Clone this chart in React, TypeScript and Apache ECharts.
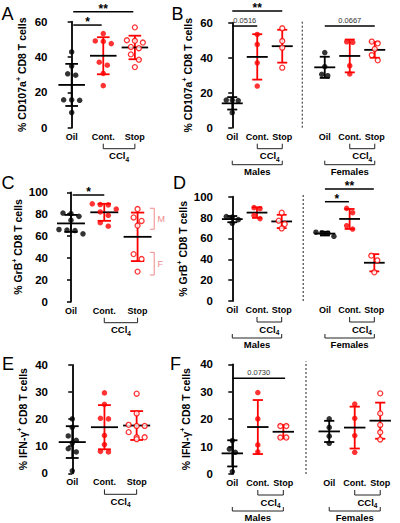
import React, { useEffect, useRef } from 'react';
import * as echarts from 'echarts';

const RED = '#ff0000';
const BLACK = '#000000';
const PINK = '#f08a8a';
const FONT = '"Liberation Sans", Arial, sans-serif';

const groupNames = ['Oil', 'Cont.', 'Stop'];

// ---- CD107a ----
const cd107aOil = [15.8, 15.8, 15.5, 8.6, 42.9, 34.9, 29.7, 30.5];
const cd107aCont = [53.3, 47.6, 37.1, 23.8, 48.8, 49.1, 35.4, 30.7];
const cd107aStop = [56.8, 49.5, 45.7, 34.3, 49.2, 48.2, 45, 41.5, 38.5];
const cd107aMaleOil = [15.8, 15.8, 15.5, 8.6];
const cd107aMaleCont = [53.3, 47.6, 37.1, 23.8];
const cd107aMaleStop = [56.8, 49.5, 45.7, 34.3];
const cd107aFemaleOil = [42.9, 34.9, 29.7, 30.5];
const cd107aFemaleCont = [48.8, 49.1, 35.4, 30.7];
const cd107aFemaleStop = [49.2, 48.2, 45, 41.5, 38.5];

// ---- GrB ----
const grbOil = [81, 80.5, 78, 74.5, 66, 65.5, 65, 62];
const grbCont = [89.5, 88.5, 82, 79, 88.8, 84.7, 72.2, 69];
const grbStop = [84.7, 77, 73.8, 69.6, 43.5, 39, 27.5];
const grbMaleOil = [81, 80.5, 78, 74.5];
const grbMaleCont = [89.5, 88.5, 82, 79];
const grbMaleStop = [84.7, 77, 73.8, 69.6];
const grbFemaleOil = [66, 65.5, 65, 62];
const grbFemaleCont = [88.8, 84.7, 72.2, 69];
const grbFemaleStop = [43.5, 39, 27.5];

// ---- IFN-gamma ----
const ifnOil = [9.1, 12.2, 7.9, 0.9, 20.1, 17, 13.8, 11.2];
const ifnCont = [29.7, 20.1, 10.6, 8.1, 25.5, 20.3, 14, 7.9];
const ifnStop = [17.5, 17.5, 13.3, 13.3, 29.4, 22.1, 17.9, 15.2, 12.6];
const ifnMaleOil = [9.1, 12.2, 7.9, 0.9];
const ifnMaleCont = [29.7, 20.1, 10.6, 8.1];
const ifnMaleStop = [17.5, 17.5, 13.3, 13.3];
const ifnFemaleOil = [20.1, 17, 13.8, 11.2];
const ifnFemaleCont = [25.5, 20.3, 14, 7.9];
const ifnFemaleStop = [29.4, 22.1, 17.9, 15.2, 12.6];

const yNameCD107a = '% CD107a{sup|+} CD8 T cells';
const yNameGrB = '% GrB{sup|+} CD8 T cells';
const yNameIFN = '% IFN-γ{sup|+} CD8 T cells';

type Group = { x: number; vals: number[]; kind: number };
type Sig = { x1: number; x2: number; y: number; text: string; num?: boolean };
type Panel = {
  letter: string; lx: number; ly: number;
  left: number; top: number; height: number; unit: number;
  xmin: number; xmax: number; ymax: number; interval: number; nameGap: number;
  yName: string; groups: Group[]; sigs: Sig[];
  ccl4: number[][]; sexes: { x1: number; x2: number; text: string }[];
  sep?: number; thresh: number; step: number; mf?: boolean;
};

const three = (f: number, a: number[], b: number[], c: number[]): Group[] => [
  { x: f, vals: a, kind: 0 }, { x: f + 1, vals: b, kind: 1 }, { x: f + 2, vals: c, kind: 2 },
];

const panels: Panel[] = [
  {
    letter: 'A', lx: 1.5, ly: 13.5, left: 50.5, top: 21.7, height: 106, unit: 31.6,
    xmin: -0.67, xmax: 2.6, ymax: 60, interval: 20, nameGap: 22, yName: yNameCD107a,
    groups: three(0, cd107aOil, cd107aCont, cd107aStop),
    sigs: [{ x1: 0.05, x2: 0.95, y: 58.1, text: '*' }, { x1: 0.05, x2: 1.95, y: 65.6, text: '**' }],
    ccl4: [[1, 2]], sexes: [], thresh: 3.1, step: 8,
  },
  {
    letter: 'B', lx: 171.5, ly: 13.5, left: 216, top: 22.7, height: 105, unit: 25,
    xmin: -0.65, xmax: 6.3, ymax: 60, interval: 20, nameGap: 21, yName: yNameCD107a,
    groups: [...three(0, cd107aMaleOil, cd107aMaleCont, cd107aMaleStop), ...three(3.7, cd107aFemaleOil, cd107aFemaleCont, cd107aFemaleStop)],
    sigs: [
      { x1: 0, x2: 2, y: 66.7, text: '**' },
      { x1: 0, x2: 1, y: 58.1, text: '0.0516', num: true },
      { x1: 3.7, x2: 5.7, y: 58.1, text: '0.0667', num: true },
    ],
    ccl4: [[1, 2], [4.7, 5.7]], sexes: [{ x1: 0, x2: 2, text: 'Males' }, { x1: 3.7, x2: 5.7, text: 'Females' }],
    sep: 2.8, thresh: 3.1, step: 6,
  },
  {
    letter: 'C', lx: 1.5, ly: 182.5, left: 51, top: 192.3, height: 109.4, unit: 33.3,
    xmin: -0.6, xmax: 2.6, ymax: 100, interval: 20, nameGap: 21, yName: yNameGrB,
    groups: three(0, grbOil, grbCont, grbStop),
    sigs: [{ x1: 0.05, x2: 1.0, y: 97.5, text: '*' }],
    ccl4: [[1, 2]], sexes: [], thresh: 5, step: 8, mf: true,
  },
  {
    letter: 'D', lx: 173, ly: 182.5, left: 216, top: 196.7, height: 104.3, unit: 24.7,
    xmin: -0.66, xmax: 6.3, ymax: 100, interval: 20, nameGap: 21, yName: yNameGrB,
    groups: [...three(0, grbMaleOil, grbMaleCont, grbMaleStop), ...three(3.75, grbFemaleOil, grbFemaleCont, grbFemaleStop)],
    sigs: [
      { x1: 3.75, x2: 5.73, y: 107.4, text: '**' },
      { x1: 3.75, x2: 4.72, y: 95.2, text: '*' },
    ],
    ccl4: [[1, 2], [4.75, 5.75]], sexes: [{ x1: 0, x2: 2, text: 'Males' }, { x1: 3.75, x2: 5.75, text: 'Females' }],
    sep: 2.87, thresh: 5, step: 6,
  },
  {
    letter: 'E', lx: 2, ly: 364, left: 51, top: 365, height: 108.3, unit: 32.2,
    xmin: -0.66, xmax: 2.6, ymax: 40, interval: 10, nameGap: 21, yName: yNameIFN,
    groups: three(0, ifnOil, ifnCont, ifnStop),
    sigs: [], ccl4: [[1, 2]], sexes: [], thresh: 2, step: 8,
  },
  {
    letter: 'F', lx: 170, ly: 364, left: 216, top: 364.3, height: 109.7, unit: 25.5,
    xmin: -0.64, xmax: 6.2, ymax: 40, interval: 10, nameGap: 23, yName: yNameIFN,
    groups: [...three(0, ifnMaleOil, ifnMaleCont, ifnMaleStop), ...three(3.8, ifnFemaleOil, ifnFemaleCont, ifnFemaleStop)],
    sigs: [{ x1: 0, x2: 2.07, y: 34.9, text: '0.0730', num: true }],
    ccl4: [[1, 2], [4.8, 5.8]], sexes: [{ x1: 0, x2: 2, text: 'Males' }, { x1: 3.8, x2: 5.8, text: 'Females' }],
    sep: 2.89, thresh: 2, step: 6,
  },
];

const mean = (a: number[]) => a.reduce((s, v) => s + v, 0) / a.length;
const sd = (a: number[]) => {
  const m = mean(a);
  return Math.sqrt(a.reduce((s, v) => s + (v - m) ** 2, 0) / (a.length - 1));
};

function swarm(vals: number[], thresh: number, stepPx: number): number[] {
  const order = vals.map((_, i) => i).sort((a, b) => vals[b] - vals[a]);
  const off = vals.map(() => 0);
  let i = 0;
  while (i < order.length) {
    let j = i + 1;
    while (j < order.length && vals[order[i]] - vals[order[j]] < thresh) j++;
    const row = order.slice(i, j);
    row.forEach((idx, k) => { off[idx] = (k - (row.length - 1) / 2) * stepPx; });
    i = j;
  }
  return off;
}

function buildOption() {
  const grid: any[] = [];
  const xAxis: any[] = [];
  const yAxis: any[] = [];
  const series: any[] = [];
  const graphic: any[] = [];

  panels.forEach((p, i) => {
    grid.push({ left: p.left, top: p.top, width: (p.xmax - p.xmin) * p.unit, height: p.height });
    const xs = p.groups.map((g) => g.x);
    xAxis.push({
      type: 'value', gridIndex: i, min: p.xmin, max: p.xmax,
      axisLine: { show: false }, axisTick: { show: false }, splitLine: { show: false },
      axisLabel: {
        customValues: xs,
        formatter: (v: number) => {
          const k = xs.findIndex((x) => Math.abs(x - v) < 1e-6);
          return k >= 0 ? groupNames[k % 3] : '';
        },
        fontSize: 9, fontWeight: 'bold', color: BLACK, fontFamily: FONT, margin: 4.5,
      },
    });
    yAxis.push({
      type: 'value', gridIndex: i, min: 0, max: p.ymax, interval: p.interval,
      axisLine: { show: true, lineStyle: { color: BLACK, width: 1.8 } },
      axisTick: { show: true, length: 4, lineStyle: { color: BLACK, width: 1.5 } },
      splitLine: { show: false },
      axisLabel: { fontSize: 11.5, fontWeight: 'bold', color: BLACK, fontFamily: FONT, margin: 3 },
      name: p.yName, nameLocation: 'middle', nameRotate: 90, nameGap: p.nameGap,
      nameTextStyle: {
        fontSize: 10.5, fontWeight: 'bold', color: BLACK, fontFamily: FONT, lineHeight: 14,
        rich: { sup: { fontSize: 7, fontWeight: 'bold', color: BLACK, fontFamily: FONT, verticalAlign: 'top', lineHeight: 14 } },
      },
    });

    p.groups.forEach((g) => {
      const off = swarm(g.vals, p.thresh, p.step);
      series.push({
        type: 'scatter', xAxisIndex: i, yAxisIndex: i, z: 3, silent: true,
        data: g.vals.map((v, k) => [g.x + off[k] / p.unit, v]),
        symbol: 'circle', symbolSize: g.kind === 2 ? 5 : 5.5,
        itemStyle: g.kind === 2
          ? { color: '#ffffff', borderColor: RED, borderWidth: 1.3 }
          : { color: g.kind === 0 ? BLACK : RED },
      });
    });

    series.push({
      type: 'custom', xAxisIndex: i, yAxisIndex: i, coordinateSystem: 'cartesian2d',
      clip: false, silent: true, z: 2, data: [[0, 0]],
      renderItem: (_params: any, api: any) => {
        const ch: any[] = [];
        const P = (x: number, y: number) => api.coord([x, y]);
        const base = P(0, 0)[1];
        const line = (x1: number, y1: number, x2: number, y2: number, stroke: string, lw = 1.8, dash?: number[]) =>
          ch.push({ type: 'line', shape: { x1, y1, x2, y2 }, style: { stroke, lineWidth: lw, lineDash: dash } });
        const text = (x: number, y: number, t: string, st: any) =>
          ch.push({
            type: 'text', x, y,
            style: { text: t, fill: BLACK, fontFamily: FONT, align: 'center', verticalAlign: 'middle', ...st },
          });

        p.groups.forEach((g) => {
          const m = mean(g.vals);
          const s = sd(g.vals);
          const color = g.kind === 0 ? BLACK : RED;
          const [cx, cy] = P(g.x, m);
          const yt = P(g.x, m + s)[1];
          const yb = P(g.x, m - s)[1];
          const cap = P(g.x + 0.2, m)[0] - cx;
          const half = P(g.x + 0.42, m)[0] - cx;
          line(cx, yt, cx, yb, color);
          line(cx - cap, yt, cx + cap, yt, color);
          line(cx - cap, yb, cx + cap, yb, color);
          line(cx - half, cy, cx + half, cy, BLACK);
        });

        p.sigs.forEach((s) => {
          const [x1, y] = P(s.x1, s.y);
          const x2 = P(s.x2, s.y)[0];
          line(x1, y, x2, y, BLACK, 1.5);
          if (s.num) text((x1 + x2) / 2, y - 5.5, s.text, { fontSize: 7.5, fill: '#333' });
          else text((x1 + x2) / 2, y - 3, s.text, { fontSize: 12, fontWeight: 'bold' });
        });

        p.ccl4.forEach(([a, b]) => {
          const xa = P(a, 0)[0];
          const xb = P(b, 0)[0];
          line(xa, base + 16, xa, base + 21, '#222', 1);
          line(xb, base + 16, xb, base + 21, '#222', 1);
          line(xa, base + 21, xb, base + 21, '#222', 1);
          text((xa + xb) / 2, base + 28, '{n|CCl}{s|4}', {
            rich: {
              n: { fontSize: 9.5, fontWeight: 'bold', fontFamily: FONT, fill: BLACK, lineHeight: 14 },
              s: { fontSize: 6.5, fontWeight: 'bold', fontFamily: FONT, fill: BLACK, lineHeight: 14, verticalAlign: 'bottom' },
            },
          });
        });

        p.sexes.forEach((s) => {
          const xa = P(s.x1, 0)[0];
          const xb = P(s.x2, 0)[0];
          line(xa, base + 33, xa, base + 37, '#222', 1);
          line(xb, base + 33, xb, base + 37, '#222', 1);
          line(xa, base + 37, xb, base + 37, '#222', 1);
          text((xa + xb) / 2, base + 43.5, s.text, { fontSize: 9.5, fontWeight: 'bold' });
        });

        if (p.sep !== undefined) {
          const [sx, sy0] = P(p.sep, 0);
          const sy1 = P(p.sep, p.ymax)[1] - 3;
          line(sx, sy0, sx, sy1, '#222', 1, [2, 2]);
        }

        if (p.mf) {
          const br = (y1: number, y2: number, label: string) => {
            const [vx, ya] = P(2.5, y1);
            const yb2 = P(2.5, y2)[1];
            const tx = P(2.37, y1)[0];
            line(vx, ya, vx, yb2, PINK, 1);
            line(tx, ya, vx, ya, PINK, 1);
            line(tx, yb2, vx, yb2, PINK, 1);
            const lx = P(2.6, 0)[0];
            text(lx, (ya + yb2) / 2, label, { fontSize: 9, fill: PINK, align: 'left' });
          };
          br(85.4, 66.2, 'M');
          br(45.1, 24.4, 'F');
        }
        return { type: 'group', children: ch };
      },
    });

    graphic.push({
      type: 'text', x: p.lx, y: p.ly,
      style: { text: p.letter, fontSize: 18, fontFamily: FONT, fill: BLACK, align: 'left', verticalAlign: 'middle', textAlign: 'left', textVerticalAlign: 'middle' },
    });
  });

  return { animation: false, backgroundColor: '#ffffff', grid, xAxis, yAxis, series, graphic };
}

export default function App() {
  const ref = useRef<HTMLDivElement>(null);
  useEffect(() => {
    if (!ref.current) return;
    const chart = echarts.init(ref.current, undefined, { renderer: 'svg' });
    chart.setOption(buildOption() as any);
    return () => chart.dispose();
  }, []);
  return <div ref={ref} style={{ position: 'absolute', left: 0, top: 0, width: 400, height: 523 }} />;
}
